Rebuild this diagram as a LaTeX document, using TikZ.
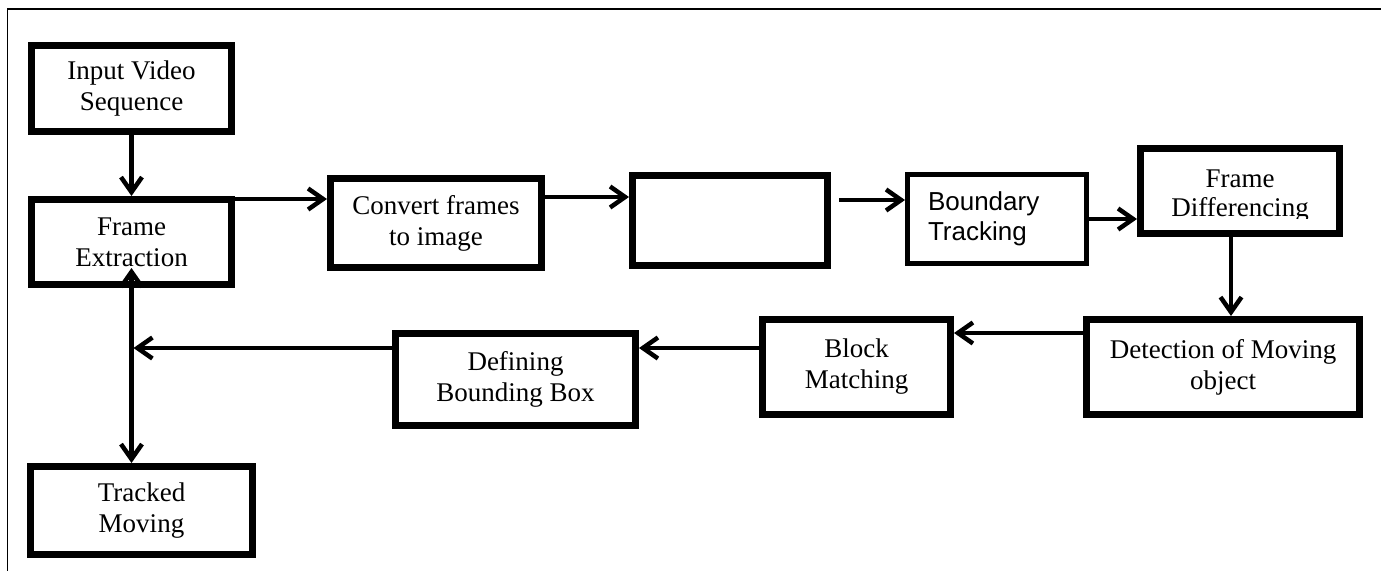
\documentclass[tikz,border=0pt]{standalone}
\usepackage{fontspec}
\setmainfont{Liberation Serif}
\newfontfamily\arialfont{Liberation Sans}
\usetikzlibrary{arrows.meta}
\begin{document}
\begin{tikzpicture}[x=1pt,y=-1pt,
  box/.style={draw, line width=7pt, fill=white, inner sep=0pt, align=center,
    font=\fontsize{27}{31}\selectfont},
  txt/.style={inner sep=0pt, align=center, font=\fontsize{27}{29.5}\selectfont},
  arr/.style={line width=4.5pt, -{Straight Barb[length=15pt,width=21pt]}},
  arrboth/.style={line width=4.5pt, {Straight Barb[length=15pt,width=21pt]}-{Straight Barb[length=15pt,width=21pt]}},
  frameline/.style={line width=2.5pt},
]
\useasboundingbox (0,0) rectangle (1381,571);
% page frame
\draw[frameline] (7,9) -- (1381,9);
\draw[line width=1.5pt] (7.5,8) -- (7.5,571);

% boxes
\node[box, minimum width=200pt, minimum height=86pt] (inp) at (131.5,88.5) {Input Video\\Sequence};
\node[box, minimum width=200pt, minimum height=85pt] (fe) at (131.5,242) {Frame\\Extraction};
\node[box, minimum width=211pt, minimum height=89pt] (conv) at (436,223) {Convert frames\\to image};
\node[box, minimum width=195pt, minimum height=90pt] (emp) at (730,220.5) {};
\node[box, line width=5pt, minimum width=179pt, minimum height=89pt, text width=138pt, align=left,
  font=\arialfont\fontsize{26}{30}\selectfont] (bt) at (997,219) {Boundary\\Tracking};
\node[box, minimum width=199pt, minimum height=85pt] (fd) at (1240,191) {};
\begin{scope}
  \clip (1145,150) rectangle (1335,218);
  \node[txt] (fdtext) at (1240,196) {Frame\\Differencing};
\end{scope}
\node[box, minimum width=273pt, minimum height=95pt] (det) at (1223,367) {Detection of Moving\\object};
\node[box, minimum width=188pt, minimum height=95pt] (bm) at (856.5,367) {Block\\Matching};
\node[box, minimum width=240pt, minimum height=92pt] (def) at (515.5,379.5) {Defining\\Bounding Box};
\node[box, minimum width=222pt, minimum height=88pt] (tm) at (141.5,510.5) {Tracked\\Moving};

% connector start points
\coordinate (s1) at ([yshift=-3pt]fe.north east);
\coordinate (s2) at ([yshift=-22pt]conv.north east);
\coordinate (s3) at ([xshift=8pt,yshift=-28pt]emp.north east);
\coordinate (s4) at ([xshift=-9pt]fd.south);
\coordinate (s5) at ([yshift=-17pt]det.north west);
\coordinate (s6) at ([yshift=-32pt]bm.north west);
\coordinate (s7) at ([yshift=-18pt]def.north west);
\coordinate (j) at (s7 -| fe.south);

% connectors
\draw[arr] (inp.south) -- (fe.north);
\draw[arr] (s1) -- (s1 -| conv.west);
\draw[arr] (s2) -- (s2 -| emp.west);
\draw[arr] (s3) -- (s3 -| bt.west);
\draw[arr] (bt.east) -- (bt.east -| fd.west);
\draw[arr] (s4) -- (s4 |- det.north);
\draw[arr] (s5) -- (s5 -| bm.east);
\draw[arr] (s6) -- (s6 -| def.east);
\draw[arr] (s7) -- ([xshift=2pt]j);
\draw[arrboth] (fe.south |- tm.north) -- ([yshift=20pt]fe.south);
\end{tikzpicture}
\end{document}
